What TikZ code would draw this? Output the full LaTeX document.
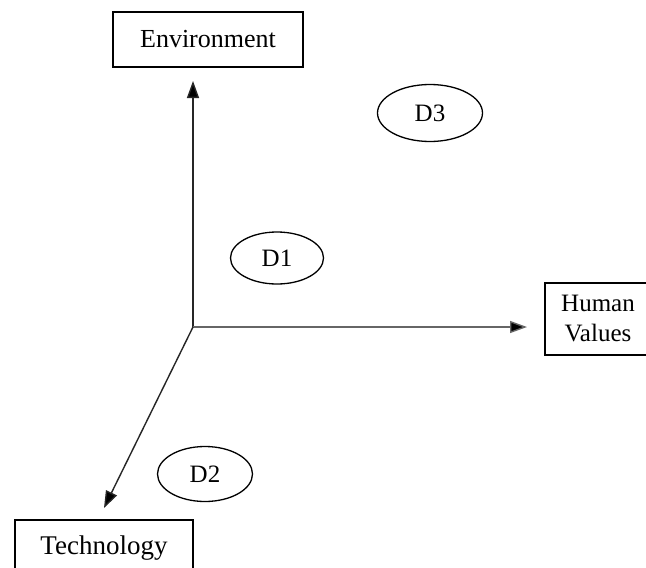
\documentclass[tikz,border=0pt]{standalone}
\usepackage{fontspec}
\setmainfont{Liberation Serif}
\usetikzlibrary{arrows.meta,shapes.geometric}

\tikzset{
  labelbox/.style={draw=black, line width=1.6pt, rectangle, inner sep=0pt,
    font=\fontsize{26}{30}\selectfont, align=center},
  domainoval/.style={draw=black, line width=1.3pt, ellipse, inner sep=0pt,
    font=\fontsize{25}{30}\selectfont},
  axisarrow/.style={line width=1.4pt, -{Triangle[length=17pt,width=12pt,fill=black]}},
}

\begin{document}
\begin{tikzpicture}[x=1pt,y=-1pt]
  \useasboundingbox (0,0) rectangle (646,568);
  \clip (0,0) rectangle (646,568);
  \fill[white] (0,0) rectangle (646,568);

  % the three dimension boxes
  \node[labelbox, minimum width=190pt, minimum height=55pt] (env) at (208,39.5) {Environment};
  \node[labelbox, minimum width=106pt, minimum height=72pt, font=\fontsize{25}{30}\selectfont] (hum) at (598,319) {Human\\Values};
  \node[labelbox, minimum width=178pt, minimum height=56pt, font=\fontsize{27}{30}\selectfont] (tech) at (104,548) {\raisebox{3pt}{Technology}};

  % domains
  \node[domainoval, minimum width=105pt, minimum height=57pt] (d3) at (430,113) {D3};
  \node[domainoval, minimum width=93pt, minimum height=52pt] (d1) at (277,258) {D1};
  \node[domainoval, minimum width=95pt, minimum height=55pt] (d2) at (205,474) {D2};

  % axes from the common origin
  \coordinate (o) at (193,327);
  \coordinate (envtip) at (193,81);
  \coordinate (humtip) at (527,327);
  \coordinate (techtip) at (104,508);
  \draw[axisarrow, draw=black!85] (o) -- (envtip);
  \draw[axisarrow, draw=black!60] (o) -- (humtip);
  \draw[axisarrow, draw=black!85] (o) -- (techtip);
\end{tikzpicture}
\end{document}
